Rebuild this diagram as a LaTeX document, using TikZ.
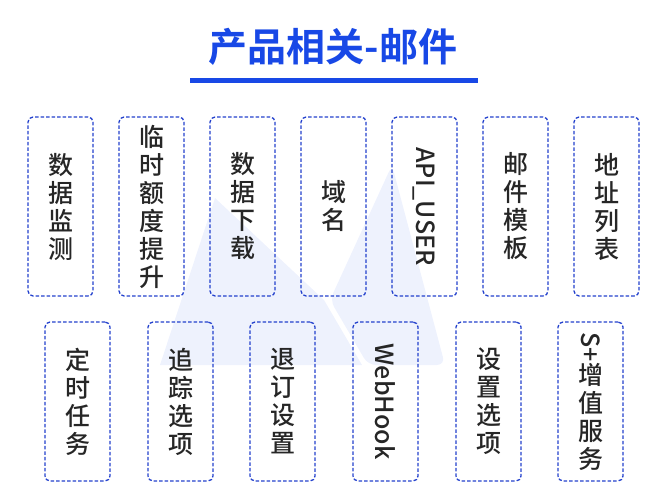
\documentclass[tikz,border=0pt]{standalone}
\usepackage{fontspec}
\usepackage{graphicx}
\setmainfont{Noto Sans CJK SC}[UprightFont=* Medium, BoldFont=* Bold]
\definecolor{mailblue}{RGB}{24,72,230}
\definecolor{mailline}{RGB}{35,65,205}
\definecolor{mailpale}{RGB}{238,242,253}
\tikzset{
    itembox/.style={draw=mailline, dash pattern=on 3.5pt off 2pt, line width=1.3pt, rounded corners=5pt, minimum width=65pt, inner sep=0pt, align=center, font=\fontsize{25}{28}\selectfont, text=black!85},
    toprow/.style={itembox, minimum height=179pt},
    lowrow/.style={itembox, minimum height=159pt},
    sideways/.style={rotate=-90, font=\fontsize{25}{28}\selectfont, text=black!85}
}
\begin{document}
\begin{tikzpicture}[x=1pt, y=-1pt]
        \useasboundingbox (0,0) rectangle (667,500);
        % faint background shape
        \fill [mailpale] (215,198) -- (160,365) -- (362,365) -- (324,300) -- cycle;
        \fill [mailpale, rounded corners=8pt] (330,300) -- (392,165) -- (445,365) -- (368,365) -- cycle;

        \node [font=\fontsize{39}{42}\selectfont\bfseries, text=mailblue] (Title) at (333,47) {产品相关-邮件};
        \fill [mailblue] (190,78) rectangle (478,83);

        \node [toprow] (T1) at (60.5,206.5) {数\\据\\监\\测};
        \node [toprow] (T2) at (151.5,206.5) {临\\时\\额\\度\\提\\升};
        \node [toprow] (T3) at (242.5,206.5) {数\\据\\下\\载};
        \node [toprow] (T4) at (333.5,206.5) {域\\名};
        \node [toprow] (T5) at (424.5,206.5) {};
        \node [sideways] (T5t) at (T5.center) {API\_USER};
        \node [toprow] (T6) at (515.5,206.5) {邮\\件\\模\\板};
        \node [toprow] (T7) at (606.5,206.5) {地\\址\\列\\表};

        \node [lowrow] (B1) at (77.5,401.5) {定\\时\\任\\务};
        \node [lowrow] (B2) at (180.5,401.5) {追\\踪\\选\\项};
        \node [lowrow] (B3) at (282.5,401.5) {退\\订\\设\\置};
        \node [lowrow] (B4) at (385.5,401.5) {};
        \node [sideways] (B4t) at (B4.center) {WebHook};
        \node [lowrow] (B5) at (488.5,401.5) {设\\置\\选\\项};
        \node [lowrow] (B6) at (590.5,401.5) {\rotatebox{-90}{S+}\\增\\值\\服\\务};
    \end{tikzpicture}
\end{document}
